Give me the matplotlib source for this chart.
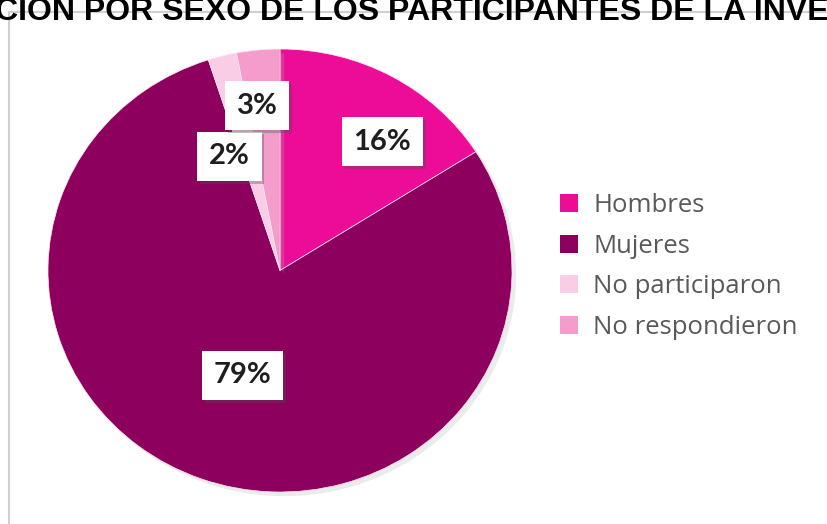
import numpy as np
import matplotlib
matplotlib.use('Agg')
import matplotlib.pyplot as plt
from matplotlib.patches import Rectangle
import matplotlib.patheffects as pe

# Data
categorias = ['Hombres', 'Mujeres', 'No participaron', 'No respondieron']
porcentajes = [16, 79, 2, 3]
colores = ['#EC0C98', '#8E005E', '#FACDE6', '#F49CCB']
titulo = 'DISTRIBUCIÓN POR SEXO DE LOS PARTICIPANTES DE LA INVESTIGACIÓN'

# label placement (radius, angle shift in degrees) for each slice
pos_etiquetas = [(0.73, -8.4), (0.50, 1.1), (0.56, 8.5), (0.75, 2.1)]

fig = plt.figure(figsize=(8.27, 5.24), dpi=100)

# Chart-area frame (runs off the right and bottom edges)
fig.patches.append(Rectangle((9 / 827, -0.1), 1.2, 1 - 12 / 524 + 0.1,
                             transform=fig.transFigure, fill=False,
                             edgecolor='#CFCFCF', linewidth=1.5))

# Title, clipped by the edges of the image as in the original
fig.text(0.5 + 12 / 827, 1 - 20 / 524, titulo, ha='center', va='baseline',
         fontsize=23, fontweight='bold', family='Liberation Sans', color='black')

# The pie is slightly stretched horizontally in the original
ax = fig.add_axes([48 / 827, 32 / 524, 464 / 827, 443 / 524])
wedges, _ = ax.pie(porcentajes, colors=colores, startangle=90, counterclock=False,
                   wedgeprops=dict(linewidth=0.5, edgecolor='#FFE6F3'))
for w in wedges:
    w.set_path_effects([pe.SimplePatchShadow(offset=(3, -3), shadow_rgbFace='#B0B0B0', alpha=0.25),
                        pe.Normal()])
ax.set_aspect('auto')
ax.set_xlim(-1, 1)
ax.set_ylim(-1, 1)
ax.axis('off')

# Data labels in white boxes
for w, p, (r, da) in zip(wedges, porcentajes, pos_etiquetas):
    ang = np.deg2rad((w.theta1 + w.theta2) / 2 + da)
    t = ax.text(r * np.cos(ang), r * np.sin(ang), f'{p}%', ha='center', va='center',
                fontsize=21, fontweight='bold', family='Lato', color='#1E1E1E',
                bbox=dict(boxstyle='square,pad=0.4', facecolor='white', edgecolor='none'))
    t.get_bbox_patch().set_path_effects([pe.SimplePatchShadow(offset=(2, -2), alpha=0.35),
                                         pe.Normal()])

# Legend
leg = fig.legend(wedges, categorias, loc='center left', bbox_to_anchor=(560 / 827, 1 - 266.5 / 524),
                 frameon=False, handlelength=0.7, handleheight=0.7,
                 handletextpad=0.6, labelspacing=0.62, borderpad=0, borderaxespad=0,
                 prop=dict(family='Open Sans', size=18.5))
for txt in leg.get_texts():
    txt.set_color('#595959')
for h in leg.legend_handles:
    h.set_edgecolor('none')
    h.set_path_effects([])

fig.savefig('out.png', dpi=100)
